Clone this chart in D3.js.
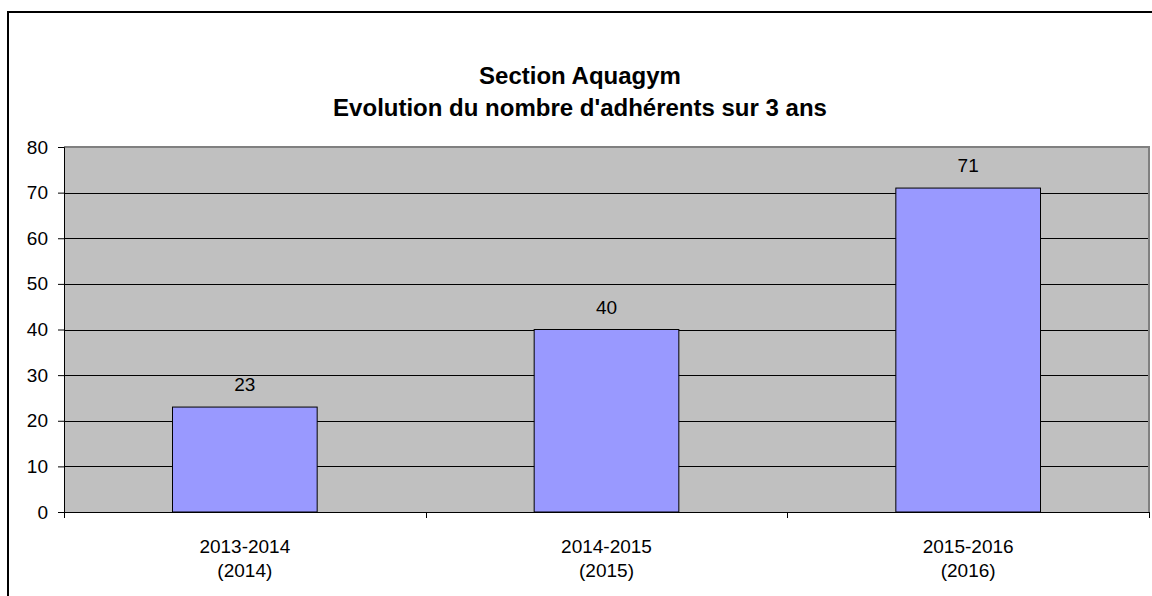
<!DOCTYPE html>
<html>
<head>
<meta charset="utf-8">
<script src="https://cdn.jsdelivr.net/npm/d3@7"></script>
<style>
  html, body { margin: 0; padding: 0; background: #fff; }
  svg { display: block; font-family: Arial, "Liberation Sans", sans-serif; }
</style>
</head>
<body>
<svg id="chart" width="1152" height="596"></svg>
<script>
const titleLines = ["Section Aquagym", "Evolution du nombre d'adhérents sur 3 ans"];
const categories = ["2013-2014", "2014-2015", "2015-2016"];
const subLabels = ["(2014)", "(2015)", "(2016)"];
const values = [23, 40, 71];
const yTicks = [0, 10, 20, 30, 40, 50, 60, 70, 80];

const svg = d3.select("#chart");
const W = 1152, H = 596;
const plot = { left: 64, top: 147, right: 1149, bottom: 512 };
const FS = 19;

// outer chart border
svg.append("rect")
  .attr("x", 8).attr("y", 12).attr("width", W).attr("height", H)
  .attr("fill", "#fff").attr("stroke", "#000").attr("stroke-width", 2);

// title
const title = svg.append("text")
  .attr("text-anchor", "middle")
  .attr("font-weight", "bold")
  .attr("font-size", 24)
  .attr("fill", "#000");
titleLines.forEach((t, i) => {
  title.append("tspan").attr("x", 580).attr("y", 84 + i * 32).text(t);
});

const x = d3.scaleBand()
  .domain(categories)
  .range([plot.left, plot.right])
  .paddingInner(0.6)
  .paddingOuter(0.3);
const xCat = d3.scaleBand().domain(categories).range([plot.left, plot.right]).padding(0);
const y = d3.scaleLinear().domain([0, 80]).range([plot.bottom, plot.top]);

// plot background
svg.append("rect")
  .attr("x", plot.left).attr("y", plot.top)
  .attr("width", plot.right - plot.left).attr("height", plot.bottom - plot.top)
  .attr("fill", "#c0c0c0");

// gridlines
svg.append("g").selectAll("line")
  .data(yTicks.filter(d => d > 0 && d < 80))
  .join("line")
  .attr("x1", plot.left).attr("x2", plot.right)
  .attr("y1", d => Math.round(y(d)) + 0.5).attr("y2", d => Math.round(y(d)) + 0.5)
  .attr("stroke", "#000").attr("stroke-width", 1);

// plot area border (top/right gray)
svg.append("path")
  .attr("d", `M${plot.left},${plot.top}H${plot.right}V${plot.bottom}`)
  .attr("fill", "none").attr("stroke", "#808080").attr("stroke-width", 2);

// bars
svg.append("g").selectAll("rect")
  .data(values)
  .join("rect")
  .attr("x", (d, i) => x(categories[i]))
  .attr("y", d => y(d))
  .attr("width", x.bandwidth())
  .attr("height", d => plot.bottom - y(d))
  .attr("fill", "#9999ff")
  .attr("stroke", "#000").attr("stroke-width", 1);

// value labels
svg.append("g").selectAll("text")
  .data(values)
  .join("text")
  .attr("x", (d, i) => x(categories[i]) + x.bandwidth() / 2)
  .attr("y", d => y(d) - 16)
  .attr("text-anchor", "middle")
  .attr("font-size", FS)
  .attr("fill", "#000")
  .text(d => d);

// y axis
const yAxis = svg.append("g")
  .attr("transform", `translate(${plot.left},0)`)
  .call(d3.axisLeft(y).tickValues(yTicks).tickSize(6).tickPadding(10));
yAxis.select(".domain").attr("stroke", "#000").attr("stroke-width", 1);
yAxis.selectAll(".tick text").attr("font-size", FS).attr("font-family", "Arial, 'Liberation Sans', sans-serif").attr("fill", "#000");
yAxis.selectAll(".tick line").attr("stroke", "#000");

// x axis
const xAxis = svg.append("g")
  .attr("transform", `translate(0,${plot.bottom})`)
  .call(d3.axisBottom(xCat).tickSize(0).tickFormat(""));
xAxis.select(".domain").attr("stroke", "#000").attr("stroke-width", 1);
// category boundary ticks
svg.append("g").selectAll("line")
  .data(d3.range(categories.length + 1))
  .join("line")
  .attr("x1", i => Math.round(plot.left + i * xCat.step()) + 0.5)
  .attr("x2", i => Math.round(plot.left + i * xCat.step()) + 0.5)
  .attr("y1", plot.bottom).attr("y2", plot.bottom + 6)
  .attr("stroke", "#000");

const xl = svg.append("g").selectAll("text")
  .data(categories)
  .join("text")
  .attr("text-anchor", "middle")
  .attr("font-size", FS)
  .attr("fill", "#000");
xl.append("tspan").attr("x", d => xCat(d) + xCat.bandwidth() / 2).attr("y", 553).text(d => d);
xl.append("tspan").attr("x", d => xCat(d) + xCat.bandwidth() / 2).attr("y", 577).text((d, i) => subLabels[i]);
</script>
</body>
</html>
